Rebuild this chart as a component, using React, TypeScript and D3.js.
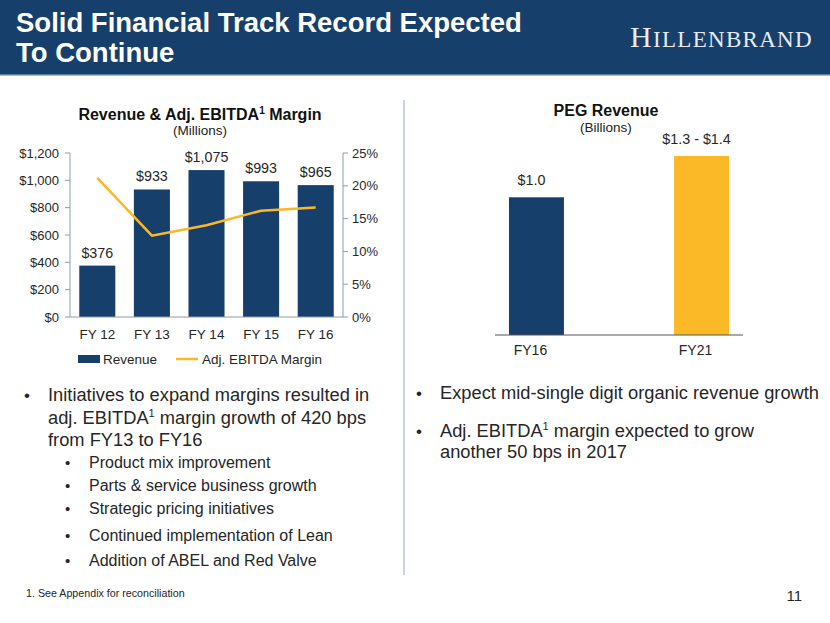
import React from "react";
import * as d3 from "d3";

const years = ["FY 12", "FY 13", "FY 14", "FY 15", "FY 16"];
const revenue = [376, 933, 1075, 993, 965];
const revenueLabels = ["$376", "$933", "$1,075", "$993", "$965"];
const margin = [21.2, 12.4, 14.0, 16.2, 16.7];
const leftTicks = [0, 200, 400, 600, 800, 1000, 1200];
const rightTicks = [0, 5, 10, 15, 20, 25];

const pegCats = ["FY16", "FY21"];
const pegValues = [1.0, 1.3];
const pegLabels = ["$1.0", "$1.3 - $1.4"];

const NAVY = "#173F6B";
const YELLOW = "#FBB927";
const AXIS = "#8E9CB4";
const TEXT = "#262626";
const FONT = "Arial, 'Liberation Sans', Helvetica, sans-serif";

export default function App() {
  // Left chart scales
  const x = d3.scaleBand<string>().domain(years).range([70, 343]).paddingInner(0.34).paddingOuter(0.17);
  const y = d3.scaleLinear().domain([0, 1200]).range([317, 153]);
  const y2 = d3.scaleLinear().domain([0, 25]).range([317, 153]);
  const line = d3
    .line<number>()
    .x((_, i) => (x(years[i]) as number) + x.bandwidth() / 2)
    .y((d) => y2(d));

  // Right chart scales
  const px = d3.scaleBand<string>().domain(pegCats).range([454, 784]).paddingInner(0.667).paddingOuter(0.333);
  const py = d3.scaleLinear().domain([0, 1.0]).range([335, 197.3]);
  const pegColors = [NAVY, YELLOW];

  const bullet = (bx: number, yy: number, size: number) => (
    <text x={bx} y={yy} fontSize={size} fill={TEXT}>•</text>
  );

  return (
    <svg
      width={830}
      height={623}
      style={{ position: "absolute", left: 0, top: 0, background: "#fff" }}
      fontFamily={FONT}
    >
      {/* Header */}
      <rect x={0} y={0} width={830} height={74} fill={NAVY} />
      <rect x={0} y={74} width={830} height={1.5} fill="#5C7DA3" />
      <text x={16} y={32} fontSize={27.5} fontWeight="bold" fill="#fff">
        Solid Financial Track Record Expected
      </text>
      <text x={16} y={62} fontSize={27.5} fontWeight="bold" fill="#fff">
        To Continue
      </text>
      <text x={630} y={47} fill="#E8ECF2" fontFamily="'Liberation Serif', 'DejaVu Serif', serif" letterSpacing={1.3}>
        <tspan fontSize={30}>H</tspan>
        <tspan fontSize={23}>ILLENBRAND</tspan>
      </text>

      {/* Left chart title */}
      <text x={200} y={120} textAnchor="middle" fontSize={16} fontWeight="bold" fill="#111">
        Revenue &amp; Adj. EBITDA<tspan fontSize={10} dy={-6}>1</tspan>
        <tspan dy={6}> Margin</tspan>
      </text>
      <text x={200} y={134.5} textAnchor="middle" fontSize={13.5} fill="#222">
        (Millions)
      </text>

      {/* Bars */}
      {revenue.map((v, i) => (
        <g key={years[i]}>
          <rect x={x(years[i])} y={y(v)} width={x.bandwidth()} height={317 - y(v)} fill={NAVY} />
          <text
            x={(x(years[i]) as number) + x.bandwidth() / 2}
            y={y(v) - 8}
            textAnchor="middle"
            fontSize={14.3}
            fill={TEXT}
          >
            {revenueLabels[i]}
          </text>
          <text
            x={(x(years[i]) as number) + x.bandwidth() / 2}
            y={339}
            textAnchor="middle"
            fontSize={13.5}
            fill={TEXT}
          >
            {years[i]}
          </text>
        </g>
      ))}

      {/* Axes */}
      <line x1={70} x2={70} y1={153} y2={317} stroke={AXIS} strokeWidth={1} />
      <line x1={343} x2={343} y1={153} y2={317} stroke={AXIS} strokeWidth={1} />
      <line x1={70} x2={343} y1={317} y2={317} stroke={AXIS} strokeWidth={1} />
      {leftTicks.map((t) => (
        <g key={"l" + t}>
          <line x1={65} x2={70} y1={y(t)} y2={y(t)} stroke={AXIS} />
          <text x={59} y={y(t) + 4.5} textAnchor="end" fontSize={13} fill={TEXT}>
            {"$" + d3.format(",")(t)}
          </text>
        </g>
      ))}
      {rightTicks.map((t) => (
        <g key={"r" + t}>
          <line x1={343} x2={348} y1={y2(t)} y2={y2(t)} stroke={AXIS} />
          <text x={352} y={y2(t) + 4.5} textAnchor="start" fontSize={13} fill={TEXT}>
            {t + "%"}
          </text>
        </g>
      ))}

      {/* Margin line */}
      <path d={line(margin) || ""} fill="none" stroke={YELLOW} strokeWidth={2.5} />

      {/* Legend */}
      <rect x={78} y={355} width={22} height={8} fill={NAVY} />
      <text x={103} y={363.5} fontSize={13.5} fill={TEXT}>Revenue</text>
      <line x1={176} x2={198} y1={359} y2={359} stroke={YELLOW} strokeWidth={2.5} />
      <text x={202} y={363.5} fontSize={13.5} fill={TEXT}>Adj. EBITDA Margin</text>

      {/* Divider */}
      <line x1={404} x2={404} y1={100} y2={575} stroke="#8FA8C8" strokeWidth={1} />

      {/* Right chart */}
      <text x={606} y={116} textAnchor="middle" fontSize={16} fontWeight="bold" fill="#111">
        PEG Revenue
      </text>
      <text x={606} y={132} textAnchor="middle" fontSize={13.5} fill="#222">
        (Billions)
      </text>
      {pegValues.map((v, i) => (
        <g key={pegCats[i]}>
          <rect x={px(pegCats[i])} y={py(v)} width={px.bandwidth()} height={335 - py(v)} fill={pegColors[i]} />
          <text
            x={(px(pegCats[i]) as number) + px.bandwidth() / 2 - 5}
            y={py(v) - 12}
            textAnchor="middle"
            fontSize={14.3}
            fill={TEXT}
          >
            {pegLabels[i]}
          </text>
          <text
            x={(px(pegCats[i]) as number) + px.bandwidth() / 2 - 6}
            y={355}
            textAnchor="middle"
            fontSize={14}
            fill={TEXT}
          >
            {pegCats[i]}
          </text>
        </g>
      ))}
      <line x1={495} x2={743} y1={335} y2={335} stroke="#555" strokeWidth={1.2} />

      {/* Left bullets */}
      {bullet(24, 401, 17)}
      <text x={48} y={401} fontSize={18.3} fill={TEXT}>Initiatives to expand margins resulted in</text>
      <text x={48} y={423.5} fontSize={18.3} fill={TEXT}>
        adj. EBITDA<tspan fontSize={11} dy={-7}>1</tspan>
        <tspan dy={7}> margin growth of 420 bps</tspan>
      </text>
      <text x={48} y={446} fontSize={18.3} fill={TEXT}>from FY13 to FY16</text>

      {bullet(65, 468, 15)}
      <text x={89} y={468} fontSize={16} fill={TEXT}>Product mix improvement</text>
      {bullet(65, 491, 15)}
      <text x={89} y={491} fontSize={16} fill={TEXT}>Parts &amp; service business growth</text>
      {bullet(65, 513.5, 15)}
      <text x={89} y={513.5} fontSize={16} fill={TEXT}>Strategic pricing initiatives</text>
      {bullet(65, 540.5, 15)}
      <text x={89} y={540.5} fontSize={16} fill={TEXT}>Continued implementation of Lean</text>
      {bullet(65, 565.5, 15)}
      <text x={89} y={565.5} fontSize={16} fill={TEXT}>Addition of ABEL and Red Valve</text>

      {/* Right bullets */}
      {bullet(416, 398.5, 17)}
      <text x={440} y={398.5} fontSize={18.3} fill={TEXT}>Expect mid-single digit organic revenue growth</text>
      {bullet(416, 436.5, 17)}
      <text x={440} y={436.5} fontSize={18.3} fill={TEXT}>
        Adj. EBITDA<tspan fontSize={11} dy={-7}>1</tspan>
        <tspan dy={7}> margin expected to grow</tspan>
      </text>
      <text x={440} y={458} fontSize={18.3} fill={TEXT}>another 50 bps in 2017</text>

      {/* Footer */}
      <text x={26} y={597} fontSize={10.7} fill={TEXT}>1.  See Appendix for reconciliation</text>
      <text x={802} y={601} textAnchor="end" fontSize={15} fill={TEXT}>11</text>
    </svg>
  );
}
